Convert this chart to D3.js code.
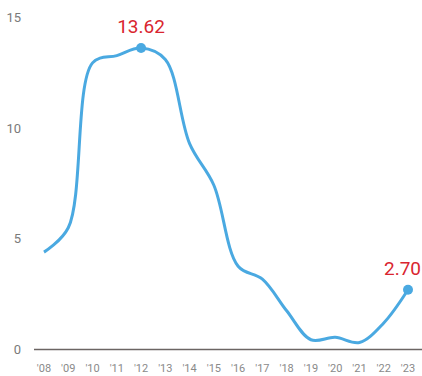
<!DOCTYPE html>
<html>
<head>
<meta charset="utf-8">
<script src="https://cdn.jsdelivr.net/npm/d3@7"></script>
<style>
  html, body { margin: 0; padding: 0; background: #fff; }
  svg { display: block; font-family: Roboto, "Noto Sans", sans-serif; }
</style>
</head>
<body>
<svg id="chart" width="422" height="376"></svg>
<script>
// Annual values, 2008–2023
const years = [2008, 2009, 2010, 2011, 2012, 2013, 2014, 2015, 2016, 2017, 2018, 2019, 2020, 2021, 2022, 2023];
const values = [4.40, 5.50, 12.95, 13.28, 13.62, 13.10, 9.30, 7.42, 3.76, 3.18, 1.75, 0.44, 0.55, 0.32, 1.20, 2.70];
const yTicks = [0, 5, 10, 15];
const labelledYears = [2012, 2023];

const svg = d3.select("#chart");
const W = 422;

const x = d3.scaleLinear().domain([2008, 2023]).range([44, 408]);
const y = d3.scaleLinear().domain([0, 15]).range([349.5, 17.5]);

// y tick labels (no gridlines)
svg.append("g")
  .selectAll("text")
  .data(yTicks)
  .join("text")
  .attr("x", 21)
  .attr("y", d => y(d))
  .attr("dy", "0.35em")
  .attr("text-anchor", "end")
  .attr("fill", "#7a7a7a")
  .attr("font-size", 13)
  .text(d => d);

// baseline
svg.append("line")
  .attr("x1", 34).attr("x2", W)
  .attr("y1", y(0)).attr("y2", y(0))
  .attr("stroke", "#6b6563")
  .attr("stroke-width", 1.5);

// x tick labels
svg.append("g")
  .selectAll("text")
  .data(years)
  .join("text")
  .attr("x", d => x(d))
  .attr("y", 368.5)
  .attr("dy", "0.35em")
  .attr("text-anchor", "middle")
  .attr("fill", "#8a8a8a")
  .attr("font-size", 11)
  .text(d => "'" + String(d).slice(2));

// series line
const data = years.map((yr, i) => ({ year: yr, value: values[i] }));
const line = d3.line()
  .x(d => x(d.year))
  .y(d => y(d.value))
  .curve(d3.curveCatmullRom.alpha(0.5));

svg.append("path")
  .datum(data)
  .attr("d", line)
  .attr("fill", "none")
  .attr("stroke", "#4aa9e1")
  .attr("stroke-width", 3);

// highlighted points with value labels
const marked = data.filter(d => labelledYears.includes(d.year));

svg.append("g")
  .selectAll("circle")
  .data(marked)
  .join("circle")
  .attr("cx", d => x(d.year))
  .attr("cy", d => y(d.value))
  .attr("r", 5)
  .attr("fill", "#4aa9e1");

svg.append("g")
  .selectAll("text")
  .data(marked)
  .join("text")
  .attr("fill", "#d9252f")
  .attr("font-size", 19)
  .attr("text-anchor", "middle")
  .attr("y", d => y(d.value) - 15)
  .text(d => d.value.toFixed(2))
  .each(function (d) {
    // keep the label inside the right edge
    const w = this.getComputedTextLength();
    const cx = Math.min(x(d.year), W - 1 - w / 2);
    d3.select(this).attr("x", cx);
  });
</script>
</body>
</html>
